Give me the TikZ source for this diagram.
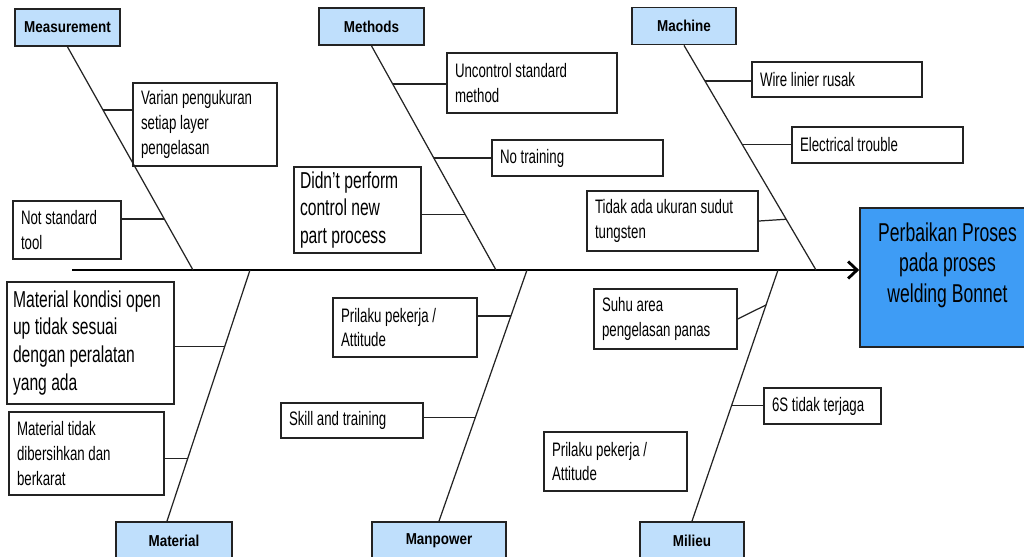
\documentclass[tikz,border=0pt]{standalone}
\usepackage{fontspec}
\setmainfont{Liberation Sans}
\newfontfamily\narrowf[FakeStretch=0.68]{Liberation Sans}
\newfontfamily\headf[FakeStretch=0.85]{Liberation Sans}
\usetikzlibrary{arrows.meta,calc}
\definecolor{headblue}{RGB}{191,223,252}
\definecolor{effblue}{RGB}{62,156,245}
\definecolor{linegray}{RGB}{35,35,35}

\begin{document}
\begin{tikzpicture}[x=0.02cm, y=-0.02cm,
  head/.style={draw=linegray, line width=1pt, fill=headblue, minimum width=#1, minimum height=0.74cm, font=\headf\bfseries\fontsize{9}{10}\selectfont},
  cause/.style 2 args={draw=linegray, line width=0.9pt, align=flush left, inner xsep=0.16cm, inner ysep=0pt, text width=#1, minimum height=#2, font=\narrowf\fontsize{11.1}{14}\selectfont},
  bigcause/.style 2 args={cause={#1}{#2}, inner xsep=0.12cm, font=\narrowf\fontsize{13.1}{15.9}\selectfont},
  effbox/.style={draw=linegray, line width=1pt, fill=effblue, minimum width=3.5cm, minimum height=2.78cm, align=center, font=\narrowf\fontsize{14.7}{17.3}\selectfont},
  bone/.style={draw=linegray, line width=0.7pt},
  spine/.style={draw=black, line width=1.6pt, -{Straight Barb[length=1.8mm,width=3.4mm]}}
]
\useasboundingbox (0,0) rectangle (1024,556);
\clip (0,0) rectangle (1024,556);

\node[head=2.10cm] (measure) at (67.5,27.5) {Measurement};
\node[head=2.10cm] (methods) at (371.5,26.5) {Methods};
\node[head=2.08cm] (machine) at (684,26) {Machine};
\node[head=2.32cm] (material) at (174,540.5) {Material};
\node[head=2.68cm] (manpower) at (439,540.5) {Manpower};
\node[head=2.08cm] (milieu) at (692,540.5) {Milieu};

\node[effbox] (effect) at (947.5,277.5) {Perbaikan Proses\\pada proses\\welding Bonnet\\\mbox{}};

\node[cause={2.56cm}{1.66cm}] (varian) at (205,124.5) {Varian pengukuran\\setiap layer\\pengelasan};
\node[cause={1.84cm}{1.16cm}] (notstd) at (67,230) {Not standard\\tool};
\node[cause={3.08cm}{1.20cm}] (uncontrol) at (532,83) {Uncontrol standard\\method};
\node[cause={3.10cm}{0.72cm}] (notrain) at (577.5,158) {No training};
\node[bigcause={2.30cm}{1.72cm}] (didnt) at (357.5,210) {Didn’t perform\\control new\\part process};
\node[cause={3.08cm}{0.70cm}] (wire) at (837,79.5) {Wire linier rusak};
\node[cause={3.10cm}{0.72cm}] (elec) at (877.5,145) {Electrical trouble};
\node[cause={3.10cm}{1.20cm}] (tidak) at (672.5,221) {Tidak ada ukuran sudut\\tungsten};
\node[bigcause={3.10cm}{2.44cm}] (matkon) at (90.5,343) {Material kondisi open\\up tidak sesuai\\dengan peralatan\\yang ada};
\node[cause={2.78cm}{1.66cm}] (matbersih) at (86.5,453.5) {Material tidak\\dibersihkan dan\\berkarat};
\node[cause={2.56cm}{1.18cm}] (prilaku1) at (405,327.5) {Prilaku pekerja /\\Attitude};
\node[cause={2.52cm}{0.70cm}] (skill) at (352,420.5) {Skill and training};
\node[cause={2.54cm}{1.20cm}] (suhu) at (665.5,319) {Suhu area\\pengelasan panas};
\node[cause={2.02cm}{0.72cm}] (sixs) at (822.5,406) {6S tidak terjaga};
\node[cause={2.54cm}{1.18cm}] (prilaku2) at (615.5,461.5) {Prilaku pekerja /\\Attitude};

\coordinate (tail) at (72,270);
\coordinate (sMeas) at (193,270);
\coordinate (sMeth) at (496,270);
\coordinate (sMach) at (816,270);
\coordinate (sMat) at (250,270);
\coordinate (sMan) at (527,270);
\coordinate (sMil) at (778,270);

\draw[spine] (tail) -- (tail -| effect.west);

\draw[bone] (measure.south) -- (sMeas);
\draw[bone] (methods.south) -- (sMeth);
\draw[bone] (machine.south) -- (sMach);
\draw[bone] (sMat) -- ([xshift=-0.14cm]material.north);
\draw[bone] (sMan) -- (manpower.north);
\draw[bone] (sMil) -- (milieu.north);

\coordinate (bVar) at ($(measure.south)!0.283!(sMeas)$);
\coordinate (bNot) at ($(measure.south)!0.771!(sMeas)$);
\coordinate (bUnc) at ($(methods.south)!0.170!(sMeth)$);
\coordinate (bTrn) at ($(methods.south)!0.5!(sMeth)$);
\coordinate (bDid) at ($(methods.south)!0.754!(sMeth)$);
\coordinate (bWir) at ($(machine.south)!0.159!(sMach)$);
\coordinate (bEle) at ($(machine.south)!0.442!(sMach)$);
\coordinate (bTid) at ($(machine.south)!0.774!(sMach)$);
\coordinate (bMk) at ($(sMat)!0.306!([xshift=-0.14cm]material.north)$);
\coordinate (bMb) at ($(sMat)!0.75!([xshift=-0.14cm]material.north)$);
\coordinate (bPr) at ($(sMan)!0.183!(manpower.north)$);
\coordinate (bSk) at ($(sMan)!0.587!(manpower.north)$);
\coordinate (bSuhu) at ($(sMil)!0.139!(milieu.north)$);
\coordinate (b6s) at ($(sMil)!0.54!(milieu.north)$);

\draw[bone] (bVar) -- (bVar -| varian.west);
\draw[bone] (bNot) -- (bNot -| notstd.east);
\draw[bone] (bUnc) -- (bUnc -| uncontrol.west);
\draw[bone] (bTrn) -- (bTrn -| notrain.west);
\draw[bone] (bDid) -- (bDid -| didnt.east);
\draw[bone] (bWir) -- (bWir -| wire.west);
\draw[bone] (bEle) -- (bEle -| elec.west);
\draw[bone] (tidak.east) -- (bTid);
\draw[bone] (bMk) -- (bMk -| matkon.east);
\draw[bone] (bMb) -- (bMb -| matbersih.east);
\draw[bone] (bPr) -- (bPr -| prilaku1.east);
\draw[bone] (bSk) -- (bSk -| skill.east);
\draw[bone] (suhu.east) -- (bSuhu);
\draw[bone] (b6s) -- (b6s -| sixs.west);
\end{tikzpicture}
\end{document}
